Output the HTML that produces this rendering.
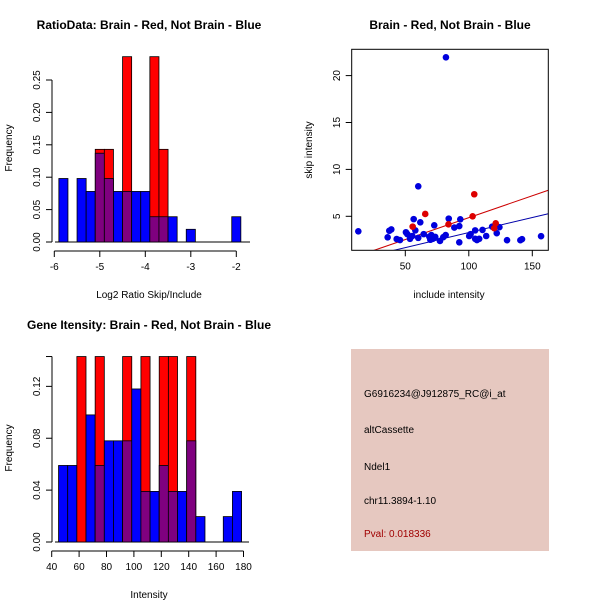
<!DOCTYPE html>
<html><head><meta charset="utf-8"><style>
body{margin:0;background:#fff}
svg text{font-family:"Liberation Sans",sans-serif}
</style></head><body>
<svg id="s" width="600" height="600" xmlns="http://www.w3.org/2000/svg">
<rect x="0" y="0" width="600" height="600" fill="#fff"/>
<text x="149" y="29" font-size="12" font-weight="bold" text-anchor="middle">RatioData: Brain - Red, Not Brain - Blue</text>
<text x="450" y="29" font-size="12" font-weight="bold" text-anchor="middle">Brain - Red, Not Brain - Blue</text>
<text x="149" y="329" font-size="12" font-weight="bold" text-anchor="middle">Gene Itensity: Brain - Red, Not Brain - Blue</text>
<text x="149" y="298" font-size="10" text-anchor="middle">Log2 Ratio Skip/Include</text>
<text transform="translate(12,148) rotate(-90)" font-size="10" text-anchor="middle">Frequency</text>
<text x="449" y="298" font-size="10" text-anchor="middle">include intensity</text>
<text transform="translate(312,150) rotate(-90)" font-size="10" text-anchor="middle">skip intensity</text>
<text x="149" y="598" font-size="10" text-anchor="middle">Intensity</text>
<text transform="translate(12,448) rotate(-90)" font-size="10" text-anchor="middle">Frequency</text>
<g id="g1"></g><g id="g2"></g><g id="g3"></g>
<g>
<rect x="351" y="349" width="198" height="202" fill="#e6c8c0"/>
<text x="364" y="397" font-size="10">G6916234@J912875_RC@i_at</text>
<text x="364" y="433" font-size="10">altCassette</text>
<text x="364" y="470" font-size="10">Ndel1</text>
<text x="364" y="504" font-size="10">chr11.3894-1.10</text>
<text x="364" y="537" font-size="10" fill="#a00000">Pval: 0.018336</text>
</g>
</svg>
<script>
// ---- Ratio histogram data ----
const ratioBinStart = -5.9;
const ratioBinWidth = 0.2;
const ratioBlue = [0.098,0,0.098,0.078,0.137,0.098,0.078,0.078,0.078,0.078,0.039,0.039,0.039,0,0.0196,0,0,0,0,0.039];
const ratioRed  = [0,0,0,0,0.143,0.143,0,0.286,0,0,0.286,0.143,0,0,0,0,0,0,0,0];
const ratioXTicks = [-6,-5,-4,-3,-2];
const ratioYTicks = ["0.00","0.05","0.10","0.15","0.20","0.25"];
// ---- Intensity histogram data ----
const intBinStart = 45;
const intBinWidth = 6.68;
const intBlue = [0.059,0.059,0,0.098,0.059,0.078,0.078,0.078,0.118,0.039,0.039,0.059,0.039,0.039,0.078,0.0196,0,0,0.0196,0.039];
const intRed  = [0,0,0.143,0,0.143,0,0,0.143,0,0.143,0,0.143,0.143,0,0.143,0,0,0,0,0];
const intXTicks = [40,60,80,100,120,140,160,180];
const intYTicks = ["0.00","0.04","0.08","0.12"];
// ---- Scatter data ----
const blueX = [13,60.2,36.1,37.4,39,43.2,45.8,50.5,51.6,53.7,55.5,56.6,57.9,60.2,61.8,64.5,68.9,69.7,70.5,71.6,72.8,73.6,77.3,79.9,81.8,84.2,88.6,92.5,93.3,92.5,100.3,101.4,105,105,106.4,108.2,110.8,113.7,118.4,122,124.1,130.1,140.6,141.9,156.9,82];
const blueY = [3.4,8.2,2.76,3.46,3.6,2.58,2.47,3.3,3.1,2.6,2.9,4.7,3.5,2.7,4.36,3.1,2.83,2.5,3.0,2.6,4.04,2.8,2.37,2.77,3.0,4.75,3.8,3.96,4.68,2.23,2.9,3.1,3.5,2.6,2.47,2.6,3.55,2.9,3.9,3.2,3.84,2.45,2.45,2.56,2.88,21.95];
const redX = [55.8,65.7,84,103,104.3,121.2,120];
const redY = [3.9,5.25,4.15,5.0,7.35,4.25,3.73];
const redFit = [0.186,0.0467];
const blueFit = [0.055,0.0321];
const scXTicks = [50,100,150];
const scYTicks = [5,10,15,20];

const NS="http://www.w3.org/2000/svg";
function mk(parent,tag,attrs){const e=document.createElementNS(NS,tag);for(const k in attrs)e.setAttribute(k,attrs[k]);parent.appendChild(e);return e;}

function hist(g,blue,red,start,w,xs,ys,yTicks,yStep,xTicks,axisY){
  for(let i=0;i<blue.length;i++){
    const x0=xs(start+i*w),x1=xs(start+(i+1)*w);
    const b=blue[i],r=red[i];
    if(r>0){const e=mk(g,'rect',{x:x0,y:ys(r),width:x1-x0,height:ys(0)-ys(r),fill:'#ff0000',stroke:'#000','stroke-width':0.8});
      }
    if(b>0){const m=Math.min(b,r);
      if(b>m){const e=mk(g,'rect',{x:x0,y:ys(b),width:x1-x0,height:ys(m)-ys(b),fill:'#0000ff',stroke:'#000','stroke-width':0.8});
        }
      if(m>0){const e=mk(g,'rect',{x:x0,y:ys(m),width:x1-x0,height:ys(0)-ys(m),fill:'#7f007f',stroke:'#000','stroke-width':0.8});
        }
    }
  }
  const yl=mk(g,'line',{x1:52,x2:52,y1:ys(0),y2:ys(yStep*(yTicks.length-1)),stroke:'#000'});
  
  yTicks.forEach((t,i)=>{const y=ys(i*yStep);mk(g,'line',{x1:46,x2:52,y1:y,y2:y,stroke:'#000'});
    const tx=mk(g,'text',{transform:`translate(40,${y}) rotate(-90)`,'font-size':10,'text-anchor':'middle'});tx.textContent=t;
    });
  const xl=mk(g,'line',{x1:xs(xTicks[0]),x2:xs(xTicks[xTicks.length-1]),y1:axisY,y2:axisY,stroke:'#000'});
  
  xTicks.forEach(t=>{const x=xs(t);mk(g,'line',{x1:x,x2:x,y1:axisY,y2:axisY+6,stroke:'#000'});
    const tx=mk(g,'text',{x:x,y:axisY+19,'font-size':10,'text-anchor':'middle'});tx.textContent=t;
    });
}
// ratio hist
{const xs=v=>54.3+(v+6)*45.5, ys=v=>242-v*648;
 const g=document.getElementById('g1');
 mk(g,'line',{x1:55,x2:250,y1:242,y2:242,stroke:'#000'});
 hist(g,ratioBlue,ratioRed,ratioBinStart,ratioBinWidth,xs,ys,ratioYTicks,0.05,ratioXTicks,251);}
// intensity hist
{const xs=v=>51.7+(v-40)*1.37, ys=v=>542-v*1297;
 const g=document.getElementById('g3');
 mk(g,'line',{x1:55,x2:249,y1:542,y2:542,stroke:'#000'});
 hist(g,intBlue,intRed,intBinStart,intBinWidth,xs,ys,intYTicks,0.04,intXTicks,551);
 const top=mk(g,'line',{x1:46,x2:52,y1:ys(0.143),y2:ys(0.143),stroke:'#000'});
 mk(g,'line',{x1:52,x2:52,y1:ys(0.12),y2:ys(0.143),stroke:'#000'});}
// scatter
{const xs=v=>405.3+(v-50)*1.27, ys=v=>216.3-(v-5)*9.38;
 const g=document.getElementById('g3').parentNode.querySelector('#g2');
 const L=351.7,R=548.3,T=49.3,B=250.3;
 const cp=mk(g,'clipPath',{id:'cp'});mk(cp,'rect',{x:L,y:T,width:R-L,height:B-T});
 const x0=7.8,x1=162.6;
 [[redFit,'#cc0000','red-fit-line'],[blueFit,'#0000aa','blue-fit-line']].forEach(([f,c,n])=>{
   const l=mk(g,'line',{x1:xs(x0),y1:ys(f[0]+f[1]*x0),x2:xs(x1),y2:ys(f[0]+f[1]*x1),stroke:c,'clip-path':'url(#cp)'});
   });
 blueX.forEach((v,i)=>{const c=mk(g,'circle',{cx:xs(v),cy:ys(blueY[i]),r:3.3,fill:'#0000dd','clip-path':'url(#cp)'});
   });
 redX.forEach((v,i)=>{const c=mk(g,'circle',{cx:xs(v),cy:ys(redY[i]),r:3.3,fill:'#dd0000','clip-path':'url(#cp)'});
   });
 const box=mk(g,'rect',{x:L,y:T,width:R-L,height:B-T,fill:'none',stroke:'#000'});
 
 scXTicks.forEach(t=>{const x=xs(t);mk(g,'line',{x1:x,x2:x,y1:B,y2:B+6,stroke:'#000'});
   const tx=mk(g,'text',{x:x,y:B+19,'font-size':10,'text-anchor':'middle'});tx.textContent=t;
   });
 scYTicks.forEach(t=>{const y=ys(t);mk(g,'line',{x1:L-6,x2:L,y1:y,y2:y,stroke:'#000'});
   const tx=mk(g,'text',{transform:`translate(340,${y}) rotate(-90)`,'font-size':10,'text-anchor':'middle'});tx.textContent=t;
   });}
</script>
</body></html>
